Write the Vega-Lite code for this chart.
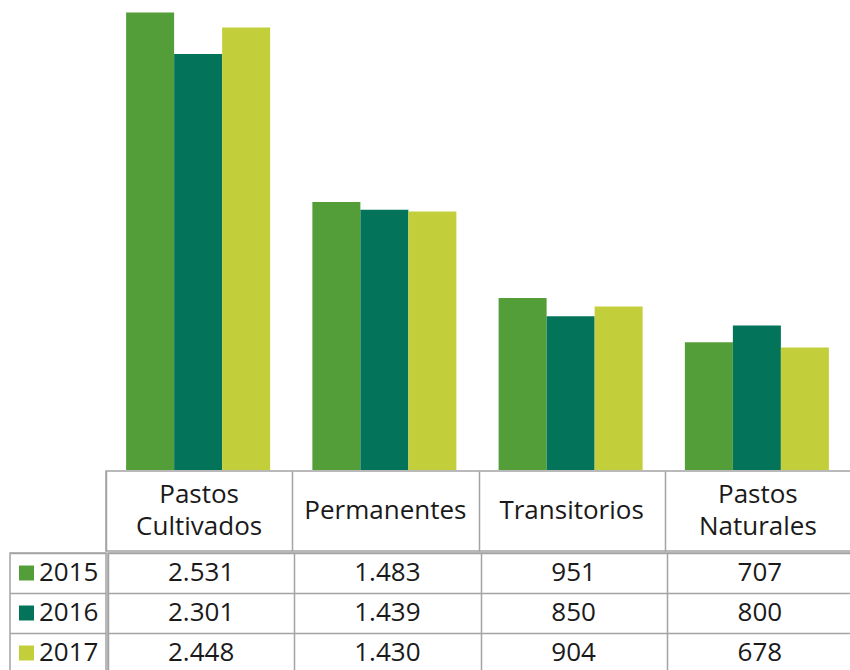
{
  "$schema": "https://vega.github.io/schema/vega-lite/v6.json",
  "padding": 0,
  "background": "white",
  "spacing": 0,
  "datasets": {
    "main": [
      {"cat": "Pastos Cultivados", "year": "2015", "value": 2531},
      {"cat": "Pastos Cultivados", "year": "2016", "value": 2301},
      {"cat": "Pastos Cultivados", "year": "2017", "value": 2448},
      {"cat": "Permanentes", "year": "2015", "value": 1483},
      {"cat": "Permanentes", "year": "2016", "value": 1439},
      {"cat": "Permanentes", "year": "2017", "value": 1430},
      {"cat": "Transitorios", "year": "2015", "value": 951},
      {"cat": "Transitorios", "year": "2016", "value": 850},
      {"cat": "Transitorios", "year": "2017", "value": 904},
      {"cat": "Pastos Naturales", "year": "2015", "value": 707},
      {"cat": "Pastos Naturales", "year": "2016", "value": 800},
      {"cat": "Pastos Naturales", "year": "2017", "value": 678}
    ]
  },
  "config": {
    "view": {"stroke": "#a3a3a3", "strokeWidth": 1.5},
    "concat": {"spacing": 0},
    "font": "Open Sans",
    "text": {"font": "Open Sans", "fontSize": 26, "color": "#1a1a1a"},
    "axis": {"gridColor": "#a3a3a3", "gridWidth": 1.5, "gridOpacity": 1},
    "locale": {"number": {"decimal": ",", "thousands": ".", "grouping": [3], "currency": ["", ""]}}
  },
  "vconcat": [
    {
      "spacing": 0,
      "hconcat": [
        {
          "width": 105, "height": 470,
          "view": {"stroke": null},
          "data": {"values": [{}]},
          "mark": {"type": "point", "opacity": 0}
        },
        {
          "width": 745, "height": 470,
          "view": {"stroke": null},
          "data": {"name": "main"},
          "mark": {"type": "bar"},
          "encoding": {
            "x": {
              "field": "cat", "type": "nominal",
              "sort": ["Pastos Cultivados", "Permanentes", "Transitorios", "Pastos Naturales"],
              "scale": {"paddingInner": 0.2268, "paddingOuter": 0.1134},
              "axis": null
            },
            "xOffset": {"field": "year", "type": "nominal", "scale": {"paddingInner": 0, "paddingOuter": 0}},
            "y": {"field": "value", "type": "quantitative", "scale": {"domain": [0, 2600], "nice": false}, "axis": null},
            "color": {
              "field": "year", "type": "nominal",
              "scale": {"domain": ["2015", "2016", "2017"], "range": ["#549E39", "#03735A", "#C3CF3A"]},
              "legend": null
            }
          }
        }
      ]
    },
    {
      "spacing": 0,
      "hconcat": [
        {
          "width": 105, "height": 80,
          "view": {"stroke": null},
          "data": {"values": [{}]},
          "mark": {"type": "point", "opacity": 0}
        },
        {
          "width": 745, "height": 80,
          "data": {"name": "main"},
          "transform": [{"aggregate": [], "groupby": ["cat"]}],
          "encoding": {
            "x": {
              "field": "cat", "type": "nominal",
              "sort": ["Pastos Cultivados", "Permanentes", "Transitorios", "Pastos Naturales"],
              "scale": {"paddingInner": 0, "paddingOuter": 0},
              "axis": {"labels": false, "ticks": false, "domain": false, "title": null, "grid": true, "tickBand": "extent"}
            },
            "text": {"field": "cat"}
          },
          "layer": [
            {
              "transform": [{"filter": "indexof(datum.cat, ' ') >= 0"}],
              "mark": {"type": "text", "lineBreak": " ", "lineHeight": 32, "baseline": "middle", "align": "center", "dy": -16}
            },
            {
              "transform": [{"filter": "indexof(datum.cat, ' ') < 0"}],
              "mark": {"type": "text", "baseline": "middle", "align": "center"}
            }
          ]
        }
      ]
    },
    {
      "spacing": 0,
      "hconcat": [
        {
          "width": 9, "height": 120,
          "view": {"stroke": null},
          "data": {"values": [{}]},
          "mark": {"type": "point", "opacity": 0}
        },
        {
          "width": 96, "height": 120,
          "data": {"name": "main"},
          "transform": [{"aggregate": [], "groupby": ["year"]}],
          "encoding": {
            "y": {
              "field": "year", "type": "nominal",
              "sort": ["2015", "2016", "2017"],
              "scale": {"paddingInner": 0, "paddingOuter": 0},
              "axis": {"labels": false, "ticks": false, "domain": false, "title": null, "grid": true, "tickBand": "extent"}
            }
          },
          "layer": [
            {
              "mark": {"type": "point", "shape": "square", "filled": true, "size": 225, "opacity": 1},
              "encoding": {
                "x": {"value": 16.5},
                "color": {
                  "field": "year", "type": "nominal",
                  "scale": {"domain": ["2015", "2016", "2017"], "range": ["#549E39", "#03735A", "#C3CF3A"]},
                  "legend": null
                }
              }
            },
            {
              "mark": {"type": "text", "align": "left", "baseline": "middle"},
              "encoding": {
                "x": {"value": 29},
                "text": {"field": "year"}
              }
            }
          ]
        },
        {
          "width": 745, "height": 120,
          "data": {"name": "main"},
          "mark": {"type": "text", "baseline": "middle", "align": "center"},
          "encoding": {
            "x": {
              "field": "cat", "type": "nominal",
              "sort": ["Pastos Cultivados", "Permanentes", "Transitorios", "Pastos Naturales"],
              "scale": {"paddingInner": 0, "paddingOuter": 0},
              "axis": {"labels": false, "ticks": false, "domain": false, "title": null, "grid": true, "tickBand": "extent"}
            },
            "y": {
              "field": "year", "type": "nominal",
              "sort": ["2015", "2016", "2017"],
              "scale": {"paddingInner": 0, "paddingOuter": 0},
              "axis": {"labels": false, "ticks": false, "domain": false, "title": null, "grid": true, "tickBand": "extent"}
            },
            "text": {"field": "value", "type": "quantitative", "format": ",d"}
          }
        }
      ]
    }
  ]
}
